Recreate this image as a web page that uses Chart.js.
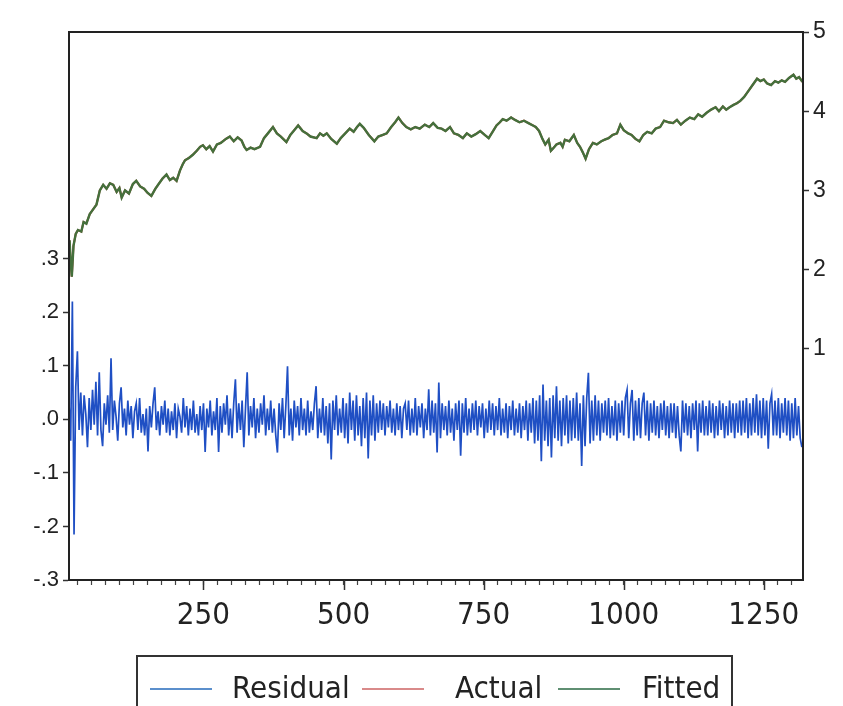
<!DOCTYPE html>
<html>
<head>
<meta charset="utf-8">
<script src="https://cdn.jsdelivr.net/npm/chart.js@4.4.1/dist/chart.umd.min.js"></script>
<style>
  html, body { margin: 0; padding: 0; background: #ffffff; }
  #wrap { position: relative; width: 843px; height: 706px; overflow: hidden; }
  canvas { display: block; }
</style>
</head>
<body>
<div id="wrap"><canvas id="c" width="843" height="706"></canvas></div>
<script>
// ---------- DATA ----------
const seriesNames = ["Residual", "Actual", "Fitted"];

// x ticks (observation numbers)
const xTickLabels = [250, 500, 750, 1000, 1250];
const leftTickValues = [-0.3, -0.2, -0.1, 0.0, 0.1, 0.2, 0.3];
const rightTickValues = [1, 2, 3, 4, 5];

// Fitted (and Actual, which lies under it) – observation numbers and values
const fittedObs = [11,13,15,18,22,26,32,36,41,47,53,59,65,71,77,83,89,95,100,104,
  110,117,124,130,137,144,150,157,164,170,177,184,190,196,202,208,213,217,224,231,
  238,244,249,255,261,267,274,281,290,297,304,311,318,323,327,334,341,351,358,365,
  374,381,388,398,405,412,419,427,434,441,452,458,464,470,478,488,495,503,511,518,
  524,529,536,545,555,562,570,577,585,592,598,605,612,620,628,636,645,653,660,668,
  675,682,690,697,705,713,720,728,736,744,752,759,766,773,779,784,791,799,806,814,
  822,830,838,843,849,855,860,866,870,874,880,887,891,895,903,911,917,922,927,932,
  938,945,952,960,966,973,980,988,994,1000,1008,1014,1021,1028,1035,1042,1050,1057,1065,1072,
  1080,1088,1095,1102,1110,1118,1126,1133,1140,1148,1156,1164,1170,1177,1183,1189,1196,1202,1208,1215,
  1222,1230,1238,1244,1250,1256,1263,1270,1276,1282,1288,1295,1303,1308,1313,1319];
const fittedVals = [2.37,2.10,1.91,2.30,2.45,2.50,2.48,2.60,2.58,2.70,2.76,2.82,3.00,3.07,3.02,3.09,3.07,2.98,3.03,2.91,
  3.00,2.96,3.08,3.12,3.05,3.02,2.97,2.93,3.02,3.08,3.15,3.20,3.13,3.16,3.12,3.25,3.33,3.38,3.41,3.45,
  3.50,3.55,3.57,3.52,3.56,3.49,3.58,3.60,3.65,3.68,3.62,3.67,3.63,3.55,3.51,3.54,3.52,3.55,3.66,3.72,
  3.80,3.72,3.68,3.61,3.70,3.76,3.82,3.75,3.72,3.68,3.66,3.72,3.69,3.72,3.65,3.59,3.66,3.72,3.78,3.74,
  3.80,3.84,3.79,3.70,3.62,3.68,3.70,3.72,3.80,3.86,3.92,3.85,3.80,3.77,3.80,3.78,3.83,3.80,3.85,3.79,
  3.78,3.75,3.80,3.72,3.70,3.66,3.72,3.68,3.71,3.75,3.70,3.66,3.74,3.82,3.86,3.90,3.88,3.92,3.89,3.86,
  3.88,3.85,3.82,3.80,3.75,3.65,3.58,3.64,3.50,3.53,3.58,3.60,3.55,3.64,3.62,3.70,3.60,3.55,3.48,3.40,
  3.52,3.60,3.58,3.62,3.64,3.66,3.70,3.72,3.83,3.76,3.72,3.70,3.65,3.62,3.70,3.74,3.72,3.78,3.80,3.88,
  3.86,3.85,3.89,3.83,3.88,3.92,3.90,3.96,3.93,3.98,4.02,4.05,4.00,4.06,4.02,4.05,4.08,4.10,4.13,4.18,
  4.25,4.33,4.41,4.38,4.40,4.35,4.33,4.38,4.36,4.39,4.37,4.42,4.46,4.41,4.43,4.37];

// Residual – sampled every 3 observations starting at observation 10
const residualStart = 10;
const residualStep = 3;
const residualVals = [
  0.03, -0.04, 0.22, -0.215, 0.06, 0.127, -0.02, 0.05, -0.03, 0.045, 0.01, -0.052, 0.04, -0.02, 0.055, -0.01, 0.07, -0.03, 0.088, -0.02,
  -0.05, 0.03, -0.01, 0.045, -0.025, 0.114, -0.02, 0.035, 0.005, -0.04, 0.03, 0.06, -0.015, 0.02, -0.03, 0.035, -0.01, 0.025, -0.035, 0.015,
  0.03, -0.02, 0.04, -0.025, 0.01, -0.03, 0.02, -0.06, 0.025, -0.015, 0.03, 0.06, -0.02, 0.015, -0.03, 0.025, -0.01, 0.035, -0.025, 0.02,
  -0.03, 0.015, -0.02, 0.03, -0.035, 0.02, 0.005, -0.025, 0.04, -0.015, 0.025, -0.03, 0.02, -0.02, 0.035, -0.025, 0.01, -0.03, 0.025, -0.02,
  0.03, -0.061, 0.02, -0.015, 0.035, -0.03, 0.015, -0.02, 0.04, -0.061, 0.025, -0.025, 0.03, -0.01, 0.045, -0.03, 0.02, -0.035, 0.03, 0.075,
  -0.025, 0.03, -0.02, 0.035, -0.052, 0.02, 0.088, -0.03, 0.025, -0.015, 0.04, -0.035, 0.02, -0.025, 0.03, -0.01, 0.045, -0.03, 0.02, -0.02,
  0.035, -0.025, 0.02, -0.03, -0.062, 0.03, -0.02, 0.04, -0.035, 0.025, 0.099, -0.03, 0.02, -0.04, 0.035, -0.015, 0.025, -0.03, 0.04, -0.02,
  0.02, -0.03, 0.035, -0.025, 0.015, -0.02, 0.03, 0.062, -0.035, 0.02, -0.025, 0.04, -0.03, 0.025, -0.045, 0.03, -0.075, 0.035, -0.02, 0.045,
  -0.03, 0.02, -0.025, 0.04, -0.035, 0.03, -0.045, 0.05, -0.02, 0.035, -0.04, 0.045, -0.03, 0.025, -0.05, 0.04, -0.035, 0.05, -0.073, 0.035,
  -0.03, 0.045, -0.04, 0.03, -0.025, 0.035, -0.02, 0.03, -0.03, 0.025, -0.015, 0.035, -0.025, 0.02, -0.03, 0.03, -0.02, 0.025, -0.035, 0.02,
  0.03, -0.02, 0.035, -0.03, 0.02, -0.025, 0.04, -0.03, 0.025, -0.015, 0.03, -0.035, 0.02, -0.02, 0.056, -0.03, 0.035, -0.025, 0.03, -0.062,
  0.069, -0.035, 0.03, -0.02, 0.025, -0.03, 0.035, -0.025, 0.02, -0.04, 0.03, -0.02, 0.035, -0.068, 0.03, -0.025, 0.04, -0.03, 0.02, -0.025,
  0.03, -0.02, 0.035, -0.03, 0.025, -0.015, 0.03, -0.035, 0.02, -0.025, 0.035, -0.02, 0.03, -0.03, 0.025, -0.02, 0.04, -0.03, 0.02, -0.025,
  0.03, -0.035, 0.025, -0.02, 0.035, -0.03, 0.02, -0.025, 0.03, -0.035, 0.025, -0.02, 0.035, -0.04, 0.03, -0.025, 0.04, -0.045, 0.035, -0.04,
  0.045, -0.078, 0.065, -0.04, 0.035, -0.05, 0.04, -0.071, 0.045, -0.035, 0.062, -0.04, 0.035, -0.05, 0.04, -0.03, 0.045, -0.045, 0.035, -0.04,
  0.04, -0.035, 0.05, -0.04, 0.03, -0.087, 0.045, -0.05, 0.04, 0.087, -0.045, 0.035, -0.04, 0.045, -0.03, 0.035, -0.04, 0.03, -0.025, 0.035,
  -0.03, 0.04, -0.035, 0.025, -0.03, 0.035, -0.04, 0.03, -0.025, 0.035, -0.03, 0.04, 0.055, -0.035, 0.03, 0.055, -0.04, 0.035, -0.03, 0.04,
  -0.035, 0.03, 0.05, -0.03, 0.035, -0.04, 0.03, -0.025, 0.035, -0.03, 0.025, -0.035, 0.03, -0.02, 0.035, -0.03, 0.025, -0.035, 0.03, -0.025,
  0.03, -0.035, 0.025, -0.03, -0.06, 0.035, -0.025, 0.03, -0.03, 0.025, -0.035, 0.03, -0.02, 0.035, -0.06, 0.03, -0.025, 0.035, -0.03, 0.025,
  -0.03, 0.035, -0.025, 0.03, -0.035, 0.025, -0.03, 0.035, -0.02, 0.03, -0.035, 0.025, -0.03, 0.035, -0.025, 0.03, -0.035, 0.03, -0.025, 0.035,
  -0.03, 0.035, -0.025, 0.04, -0.035, 0.03, -0.03, 0.04, -0.025, 0.047, -0.03, 0.035, -0.035, 0.04, -0.03, 0.035, -0.055, 0.03, 0.047, -0.03,
  0.035, -0.03, 0.04, -0.035, 0.03, -0.025, 0.04, -0.03, 0.035, -0.04, 0.03, -0.035, 0.04, -0.03, 0.025, -0.035, -0.052
];

// ---------- build library structures ----------
const residualPoints = residualVals.map((v, i) => ({ x: residualStart + i * residualStep, y: v }));
const fittedPoints = fittedVals.map((v, i) => ({ x: fittedObs[i], y: v }));
const actualPoints = fittedPoints.map(p => ({ x: p.x, y: p.y }));

const COL_RES = '#1f4fc4';
const COL_ACT = '#d03838';
const COL_FIT = '#44703c';
const LEG_RES = '#5b8fcc';
const LEG_ACT = '#d98a8a';
const LEG_FIT = '#5f8f72';

const X_FONT = '"Liberation Sans Narrow", "Arial Narrow", "DejaVu Sans Condensed", "Liberation Sans", Arial, sans-serif';
const Y_FONT = '"Liberation Sans", Arial, sans-serif';

const framePlugin = {
  id: 'framePlugin',
  afterDatasetsDraw(chart) {
    const { ctx, chartArea: a } = chart;
    ctx.save();
    ctx.strokeStyle = '#222';
    ctx.lineWidth = 2;
    ctx.strokeRect(a.left, a.top, a.right - a.left, a.bottom - a.top);
    ctx.restore();
  },
  afterDraw(chart) {
    const { ctx, chartArea: a } = chart;
    const xs = chart.scales.x;
    // major x ticks (longer)
    ctx.save();
    ctx.strokeStyle = '#333';
    ctx.lineWidth = 1.5;
    xTickLabels.forEach(v => {
      const px = Math.round(xs.getPixelForValue(v)) + 0.5;
      ctx.beginPath();
      ctx.moveTo(px, a.bottom);
      ctx.lineTo(px, a.bottom + 10);
      ctx.stroke();
    });
    ctx.restore();

    // legend box
    ctx.save();
    ctx.strokeStyle = '#333';
    ctx.lineWidth = 2;
    ctx.strokeRect(137, 656, 595, 70);
    const y = 689;
    const items = [
      { name: seriesNames[0], col: LEG_RES, x0: 150, x1: 212, tx: 232 },
      { name: seriesNames[1], col: LEG_ACT, x0: 362, x1: 424, tx: 455 },
      { name: seriesNames[2], col: LEG_FIT, x0: 558, x1: 620, tx: 642 }
    ];
    ctx.font = '31px ' + X_FONT;
    ctx.textBaseline = 'middle';
    ctx.textAlign = 'left';
    items.forEach(it => {
      ctx.strokeStyle = it.col;
      ctx.lineWidth = 2;
      ctx.beginPath();
      ctx.moveTo(it.x0, y);
      ctx.lineTo(it.x1, y);
      ctx.stroke();
      ctx.fillStyle = '#222';
      ctx.fillText(it.name, it.tx, y + 1);
    });
    ctx.restore();
  }
};

const ctx = document.getElementById('c').getContext('2d');
new Chart(ctx, {
  type: 'line',
  data: {
    datasets: [
      { label: seriesNames[2], data: fittedPoints, yAxisID: 'y2', borderColor: COL_FIT, borderWidth: 2.4,
        pointRadius: 0, tension: 0, order: 1 },
      { label: seriesNames[1], data: actualPoints, yAxisID: 'y2', borderColor: COL_ACT, borderWidth: 2,
        pointRadius: 0, tension: 0, order: 2 },
      { label: seriesNames[0], data: residualPoints, yAxisID: 'y', borderColor: COL_RES, borderWidth: 1.7,
        pointRadius: 0, tension: 0, order: 3 }
    ]
  },
  options: {
    responsive: false,
    animation: false,
    events: [],
    layout: { padding: { top: 32, bottom: 56, left: 0, right: 0 } },
    plugins: { legend: { display: false }, tooltip: { enabled: false } },
    scales: {
      x: {
        type: 'linear',
        min: 10,
        max: 1320,
        afterBuildTicks(scale) {
          const t = [];
          for (let v = 25; v <= 1300; v += 25) t.push({ value: v });
          scale.ticks = t;
        },
        afterFit(scale) { scale.height = 70; },
        ticks: {
          autoSkip: false,
          maxRotation: 0,
          padding: 12,
          color: '#222',
          font: { family: X_FONT, size: 31 },
          callback: (v) => (xTickLabels.includes(v) ? String(v) : '')
        },
        grid: { drawOnChartArea: false, drawTicks: true, tickLength: 5, tickColor: '#444', tickWidth: 1.2 },
        border: { display: true, color: '#222', width: 2 }
      },
      y: {
        type: 'linear',
        position: 'left',
        min: -0.3,
        max: 0.7234,
        afterBuildTicks(scale) { scale.ticks = leftTickValues.map(v => ({ value: v })); },
        afterFit(scale) { scale.width = 69; },
        ticks: {
          padding: 4,
          color: '#222',
          font: { family: Y_FONT, size: 22 },
          callback: (v) => {
            const s = Number(v).toFixed(1);
            return s.replace('0.', '.');
          }
        },
        grid: { drawOnChartArea: false, drawTicks: true, tickLength: 6, tickColor: '#333', tickWidth: 1.5 },
        border: { display: true, color: '#222', width: 2 }
      },
      y2: {
        type: 'linear',
        position: 'right',
        min: -1.92,
        max: 5,
        afterBuildTicks(scale) { scale.ticks = rightTickValues.map(v => ({ value: v })); },
        afterFit(scale) { scale.width = 40; },
        ticks: {
          padding: 4,
          color: '#222',
          font: { family: Y_FONT, size: 23 },
          callback: (v) => String(v)
        },
        grid: { drawOnChartArea: false, drawTicks: true, tickLength: 6, tickColor: '#333', tickWidth: 1.5 },
        border: { display: true, color: '#222', width: 2 }
      }
    }
  },
  plugins: [framePlugin]
});
</script>
</body>
</html>
